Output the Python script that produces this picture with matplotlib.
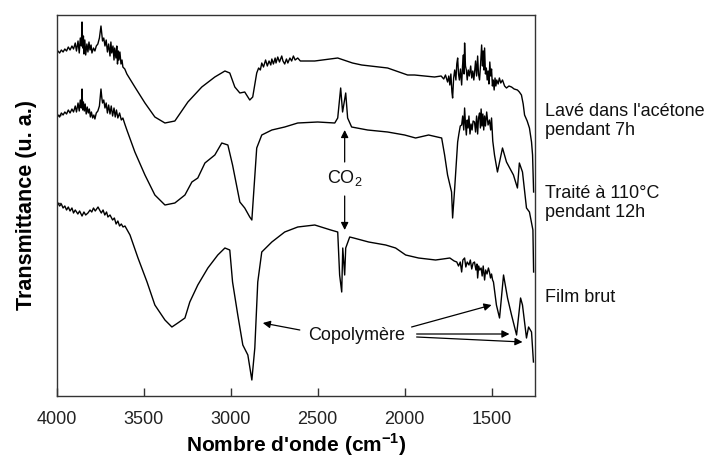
import numpy as np
import matplotlib.pyplot as plt

plt.rcParams['font.family'] = ['Liberation Sans', 'DejaVu Sans']
plt.rcParams['mathtext.fontset'] = 'custom'
plt.rcParams['mathtext.rm'] = 'Liberation Sans'
plt.rcParams['mathtext.bf'] = 'Liberation Sans:bold'

# spectra (wavenumber in cm-1, transmittance in a.u.)
wn_lave = [3995, 3985, 3975, 3965, 3955, 3945, 3935, 3925, 3914, 3905, 3895, 3888, 3879, 3872,
           3866, 3860, 3856, 3852, 3848, 3845, 3840, 3835, 3828, 3822, 3816, 3810, 3804, 3799,
           3790, 3782, 3774, 3765, 3756, 3747, 3742, 3738, 3731, 3724, 3717, 3710, 3703, 3695,
           3690, 3685, 3678, 3672, 3668, 3661, 3656, 3652, 3647, 3644, 3638, 3632, 3626, 3621,
           3610, 3598, 3552, 3494, 3437, 3379, 3322, 3247, 3167, 3092, 3034, 3006, 2977, 2948,
           2920, 2891, 2874, 2851, 2840, 2830, 2822, 2812, 2800, 2790, 2780, 2770, 2764, 2755,
           2745, 2740, 2730, 2720, 2707, 2700, 2690, 2680, 2672, 2660, 2650, 2640, 2630, 2615,
           2600, 2517, 2385, 2300, 2247, 2098, 1983, 1943, 1828, 1790, 1775, 1765, 1753, 1746,
           1740, 1734, 1728, 1724, 1718, 1712, 1705, 1700, 1695, 1690, 1685, 1679, 1672, 1667,
           1662, 1658, 1655, 1650, 1645, 1640, 1634, 1628, 1620, 1614, 1608, 1602, 1598, 1592,
           1586, 1580, 1575, 1569, 1563, 1557, 1552, 1548, 1544, 1540, 1535, 1530, 1525, 1520,
           1515, 1510, 1505, 1500, 1495, 1490, 1485, 1480, 1475, 1470, 1462, 1455, 1447, 1437,
           1425, 1414, 1400, 1385, 1370, 1351, 1340, 1328, 1318, 1310, 1295, 1282, 1270, 1264,
           1258]
t_lave = [345, 343, 346, 344, 347, 345, 349, 346, 350, 347, 353, 345, 355, 343,
          358, 350, 374, 348, 360, 342, 356, 341, 352, 344, 354, 346, 351, 343,
          348, 345, 350, 352, 358, 370, 362, 355, 358, 350, 356, 344, 352, 340,
          354, 343, 350, 336, 348, 338, 350, 332, 345, 336, 344, 332, 336, 329,
          327, 322, 309, 293, 279, 273, 275, 294, 309, 319, 325, 323, 309, 303,
          304, 296, 299, 323, 328, 326, 333, 329, 336, 330, 335, 331, 337, 332,
          338, 333, 339, 334, 340, 335, 332, 337, 333, 338, 335, 340, 336, 338,
          335, 335, 338, 333, 331, 328, 321, 321, 319, 320, 317, 321, 314, 320,
          311, 322, 304, 298, 318, 326, 316, 332, 338, 322, 316, 327, 311, 330,
          341, 322, 353, 330, 326, 316, 326, 320, 330, 318, 325, 316, 323, 335,
          320, 340, 322, 316, 332, 351, 330, 345, 326, 348, 322, 328, 316, 325,
          312, 334, 320, 327, 310, 316, 306, 318, 310, 316, 312, 318, 313, 316,
          310, 308, 310, 309, 307, 306, 304, 301, 292, 281, 275, 268, 254, 241,
          204]

wn_traite = [3995, 3985, 3975, 3965, 3955, 3945, 3935, 3925, 3914, 3905, 3895, 3888, 3879, 3872,
             3866, 3860, 3856, 3852, 3848, 3843, 3838, 3832, 3826, 3820, 3814, 3808, 3802, 3795,
             3788, 3782, 3774, 3765, 3756, 3747, 3742, 3738, 3731, 3724, 3717, 3710, 3703, 3695,
             3688, 3680, 3672, 3665, 3658, 3650, 3640, 3630, 3621, 3610, 3598, 3552, 3494, 3437,
             3379, 3322, 3264, 3224, 3190, 3149, 3092, 3052, 3017, 2990, 2948, 2920, 2891, 2879,
             2851, 2822, 2764, 2690, 2615, 2500, 2402, 2385, 2368, 2357, 2339, 2328, 2305, 2213,
             2098, 2000, 1937, 1862, 1787, 1770, 1753, 1730, 1724, 1712, 1695, 1688, 1680, 1672,
             1666, 1660, 1655, 1650, 1645, 1640, 1635, 1630, 1624, 1618, 1612, 1606, 1598, 1592,
             1586, 1580, 1575, 1569, 1564, 1560, 1555, 1550, 1545, 1540, 1535, 1528, 1520, 1512,
             1505, 1500, 1493, 1483, 1466, 1437, 1414, 1374, 1351, 1340, 1322, 1299, 1282, 1262,
             1258]
t_traite = [281, 279, 283, 281, 284, 282, 286, 283, 287, 284, 290, 284, 293, 285,
            296, 288, 307, 286, 294, 285, 292, 282, 289, 283, 287, 279, 284, 278,
            281, 277, 283, 285, 290, 307, 298, 293, 296, 288, 293, 283, 291, 282,
            290, 280, 288, 279, 286, 278, 283, 276, 278, 272, 266, 244, 221, 201,
            191, 193, 201, 214, 218, 233, 241, 253, 251, 231, 194, 188, 179, 176,
            248, 261, 266, 269, 273, 274, 273, 278, 308, 284, 303, 278, 269, 266,
            264, 261, 258, 261, 258, 241, 221, 204, 178, 208, 254, 262, 270, 271,
            280, 266, 288, 272, 261, 276, 268, 280, 262, 272, 266, 275, 274, 264,
            280, 262, 278, 283, 268, 287, 270, 282, 266, 280, 270, 284, 271, 276,
            266, 278, 255, 241, 224, 248, 234, 221, 208, 233, 224, 188, 184, 166,
            124]

wn_brut = [3995, 3985, 3975, 3965, 3955, 3945, 3935, 3925, 3914, 3905, 3895, 3880, 3870, 3856,
           3845, 3835, 3822, 3810, 3800, 3790, 3780, 3764, 3755, 3745, 3735, 3725, 3715, 3707,
           3695, 3680, 3670, 3660, 3650, 3640, 3630, 3620, 3609, 3580, 3534, 3482, 3437, 3379,
           3339, 3305, 3264, 3236, 3190, 3132, 3075, 3034, 3006, 2990, 2960, 2931, 2902, 2879,
           2862, 2845, 2822, 2764, 2690, 2615, 2517, 2425, 2385, 2374, 2362, 2356, 2345, 2339,
           2316, 2293, 2207, 2109, 2052, 1994, 1920, 1822, 1780, 1740, 1715, 1700, 1690, 1680,
           1672, 1665, 1655, 1648, 1640, 1630, 1622, 1614, 1606, 1598, 1590, 1584, 1580, 1574,
           1568, 1560, 1554, 1548, 1540, 1534, 1526, 1518, 1512, 1506, 1500, 1494, 1489, 1472,
           1454, 1431, 1408, 1385, 1356, 1333, 1322, 1299, 1287, 1270, 1259]
t_brut = [193, 190, 192, 188, 190, 186, 189, 185, 188, 183, 186, 182, 185, 180,
          184, 181, 183, 186, 184, 188, 185, 189, 186, 183, 186, 181, 184, 179,
          181, 176, 178, 172, 175, 170, 172, 169, 170, 161, 138, 114, 91, 76,
          69, 73, 78, 94, 111, 128, 141, 148, 146, 114, 81, 51, 41, 16,
          48, 114, 144, 154, 164, 169, 171, 166, 164, 121, 104, 148, 121, 148,
          159, 158, 154, 151, 148, 141, 138, 136, 137, 138, 135, 134, 130, 134,
          124, 136, 138, 129, 134, 131, 136, 127, 133, 134, 126, 132, 118, 130,
          126, 128, 120, 130, 116, 126, 122, 128, 124, 118, 122, 116, 114, 91,
          78, 121, 98, 81, 61, 98, 91, 58, 69, 64, 34]

xticks = [4000, 3500, 3000, 2500, 2000, 1500]

fig = plt.figure(figsize=(7.15, 4.59), dpi=100)
ax = fig.add_axes([57 / 715, 63 / 459, 478 / 715, 381 / 459])

for wn, t in [(wn_lave, t_lave), (wn_traite, t_traite), (wn_brut, t_brut)]:
    ax.plot(wn, t, color='black', lw=1.0)

ax.set_xlim(4000, 1250)
ax.set_ylim(0, 381)
ax.set_xticks(xticks)
ax.set_xticklabels([str(x) for x in xticks])
ax.set_yticks([193, 281])
ax.set_yticklabels([])
ax.tick_params(axis='x', direction='in', length=6, width=1, color='#333333',
               labelsize=13, labelcolor='#222222', pad=11)
ax.tick_params(axis='y', direction='in', length=3, width=1, color='#333333')
for sp in ax.spines.values():
    sp.set_color('#333333')
    sp.set_linewidth(1.0)

ax.set_xlabel("Nombre d'onde (cm$^{\\mathbf{-1}}$)", fontsize=15, fontweight='bold', labelpad=2)
ax.set_ylabel("Transmittance (u. a.)", fontsize=15.5, fontweight='bold', labelpad=11)

# labels on the right
fig.text(545 / 715, 1 - 121 / 459, "Lavé dans l'acétone\npendant 7h", fontsize=13,
         va='center', ha='left', color='#111111')
fig.text(545 / 715, 1 - 203 / 459, "Traité à 110°C\npendant 12h", fontsize=13,
         va='center', ha='left', color='#111111')
fig.text(545 / 715, 1 - 298 / 459, "Film brut", fontsize=13,
         va='center', ha='left', color='#111111')

arrow = dict(arrowstyle='-|>', color='black', lw=0.9, mutation_scale=11, shrinkA=0, shrinkB=0)

# CO2
ax.text(2345, 218, "CO$_{\\mathrm{2}}$", fontsize=13, ha='center', va='center', color='#111111')
ax.annotate('', xy=(2345, 266), xytext=(2345, 234), arrowprops=arrow)
ax.annotate('', xy=(2345, 166), xytext=(2345, 200), arrowprops=arrow)

# copolymere
ax.text(2276, 61, "Copolymère", fontsize=13, ha='center', va='center', color='#111111')
ax.annotate('', xy=(2816, 73), xytext=(2603, 66), arrowprops=arrow)
ax.annotate('', xy=(1500, 91), xytext=(1960, 69), arrowprops=arrow)
ax.annotate('', xy=(1397, 62), xytext=(1931, 62), arrowprops=arrow)
ax.annotate('', xy=(1322, 54), xytext=(1931, 59), arrowprops=arrow)

fig.savefig('out.png', dpi=100)
